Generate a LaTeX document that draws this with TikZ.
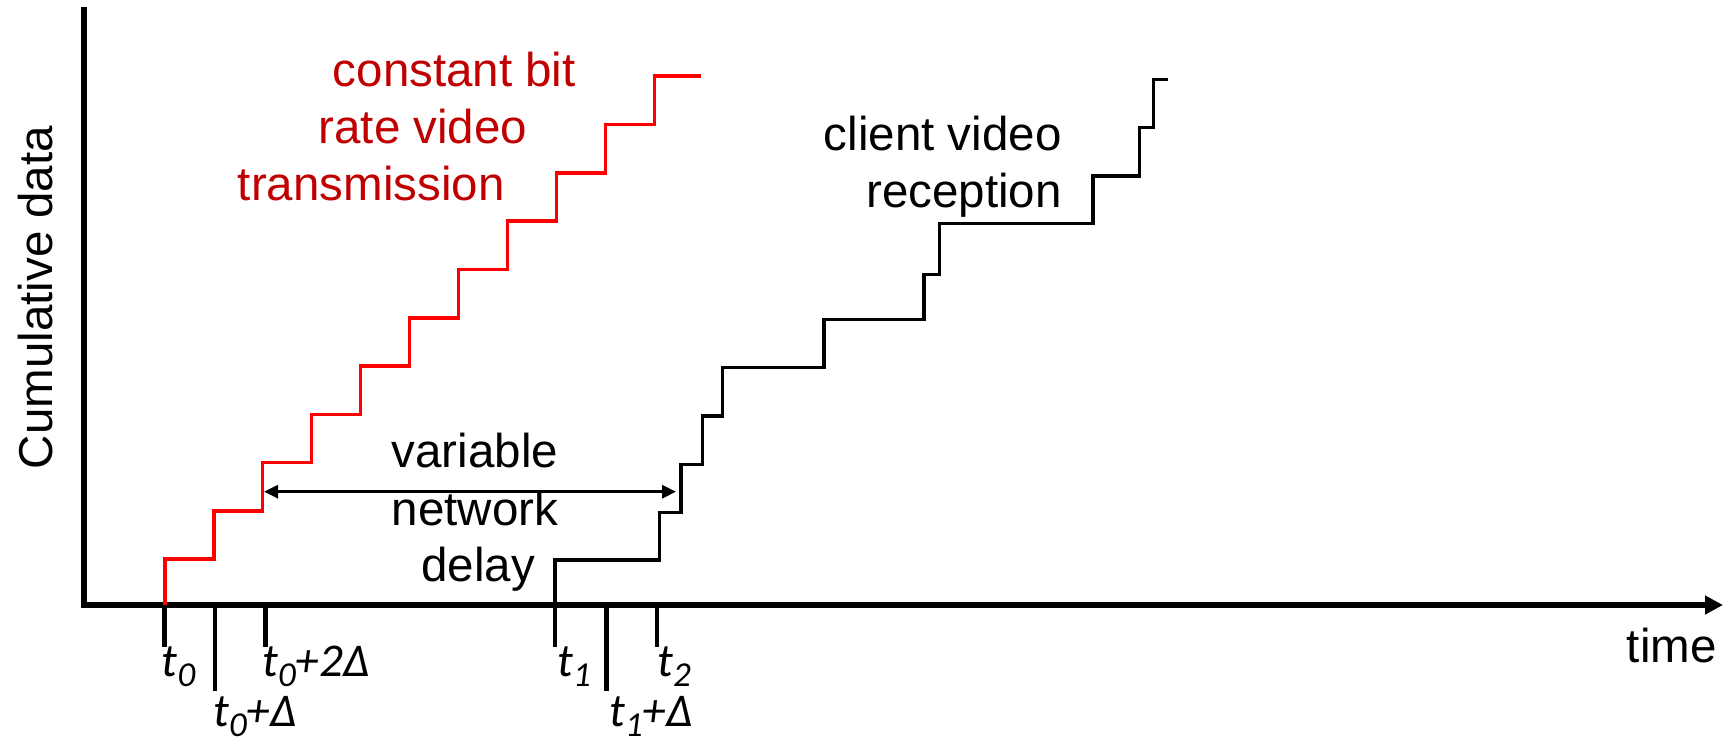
\documentclass[tikz,border=0pt]{standalone}
\usepackage{fontspec}
\setmainfont{Liberation Sans}
\newfontfamily\ticfont{Carlito}
\usetikzlibrary{arrows.meta}
\definecolor{cbrred}{RGB}{255,0,0}
\definecolor{txtred}{RGB}{192,0,0}
\newcommand{\tsub}[1]{\raisebox{-5pt}{\fontsize{17.5}{17.5}\selectfont #1}}
\begin{document}
\begin{tikzpicture}[x=0.5pt,y=-0.5pt,
  lbl/.style={font=\fontsize{23.75}{28}\selectfont, inner sep=0pt},
  tlbl/.style={font=\ticfont\itshape\fontsize{23.5}{25}\selectfont, inner sep=0pt, anchor=base west},
  axis/.style={line width=2.8pt},
  tickline/.style={line width=2.3pt},
  stair/.style={line width=1.8pt},
  dtip/.tip={Triangle[length=7pt,width=6.5pt]},
]
\useasboundingbox (0,0) rectangle (1733,745);

% axes
\coordinate (ytop) at (84,7);
\coordinate (xend) at (1723,605);
\draw[axis, -{Triangle[length=9pt,width=9pt]}] (ytop) |- (xend);

% ticks
\foreach \x/\l in {164.5/41.7, 215/85.7, 265.5/41.7, 555/41.7, 606.5/85.7, 657/41.7}
  \draw[tickline] (\x,605) -- ++(0,\l);

% red staircase (constant bit rate transmission)
\draw[stair, cbrred] (164.7,605) -- (164.7,559.2) -- (213.7,559.2) -- (213.7,510.9)
  -- (262.6,510.9) -- (262.6,462.6) -- (311.6,462.6) -- (311.6,414.3)
  -- (360.5,414.3) -- (360.5,366.0) -- (409.5,366.0) -- (409.5,317.7)
  -- (458.5,317.7) -- (458.5,269.4) -- (507.4,269.4) -- (507.4,221.1)
  -- (556.4,221.1) -- (556.4,172.8) -- (605.3,172.8) -- (605.3,124.5)
  -- (654.3,124.5) -- (654.3,76.2) -- (700.7,76.2);

% black staircase (client reception)
\draw[stair, black] (555,605) -- (555,560) -- (659.5,560) -- (659.5,512.4)
  -- (681,512.4) -- (681,464.3) -- (702.5,464.3) -- (702.5,416)
  -- (722.5,416) -- (722.5,367.4) -- (824,367.4) -- (824,319.4)
  -- (924,319.4) -- (924,274.3) -- (939.5,274.3) -- (939.5,223.3)
  -- (1093,223.3) -- (1093,176) -- (1139.5,176) -- (1139.5,127.3)
  -- (1153.5,127.3) -- (1153.5,79.4) -- (1167.5,79.4);

% delay arrow
\coordinate (dl) at (264,491.7);
\coordinate (dr) at (676,491.7);
\draw[line width=1.4pt, dtip-dtip] (dl) -- (dr);

% texts
\node[lbl, text=txtred, anchor=base] (c1) at (454.3,86) {constant bit};
\node[lbl, text=txtred, anchor=base] (c2) at (423,143.3) {rate video};
\node[lbl, text=txtred, anchor=base] (c3) at (371.2,200.7) {transmission};
\node[lbl, anchor=base east] (r1) at (1062,150.5) {client video};
\node[lbl, anchor=base east] (r2) at (1062,207) {reception};
\node[lbl, anchor=base] (v1) at (475,467.5) {variable};
\node[lbl, anchor=base] (v2) at (475,525) {network};
\node[lbl, anchor=base] (v3) at (478,581.5) {delay};
\node[lbl, anchor=base east] (time) at (1717,662) {time};
\node[lbl, rotate=90, anchor=base] (cum) at (52,297.5) {Cumulative data};

% tick labels
\node[tlbl] (l0) at (161.5,676) {t\tsub{0}};
\node[tlbl] (l0d) at (213,726) {t\tsub{0}+Δ};
\node[tlbl] (l02d) at (262,676) {t\tsub{0}+2Δ};
\node[tlbl] (l1) at (557,676) {t\tsub{1}};
\node[tlbl] (l1d) at (609,726) {t\tsub{1}+Δ};
\node[tlbl] (l2) at (657,676) {t\tsub{2}};
\end{tikzpicture}
\end{document}
